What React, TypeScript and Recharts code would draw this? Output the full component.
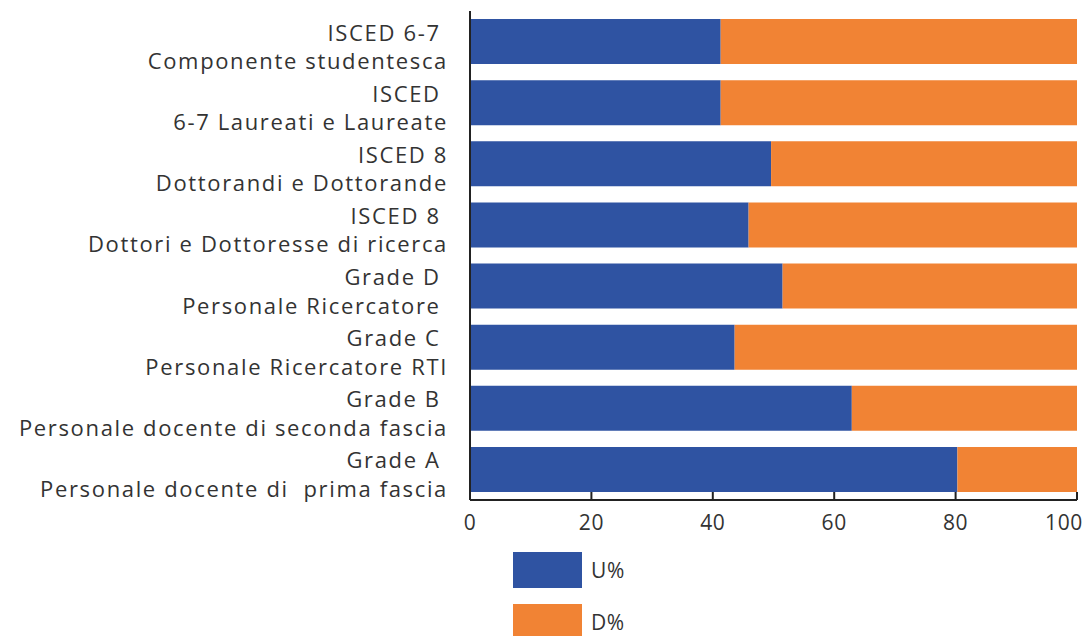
import React from "react";
import { BarChart, Bar, XAxis, YAxis, Legend } from "recharts";

// Etichette su due righe (spazi finali conservati come nell'originale)
const categoryTop = [
  "ISCED 6-7 ",
  "ISCED ",
  "ISCED 8",
  "ISCED 8 ",
  "Grade D ",
  "Grade C ",
  "Grade B ",
  "Grade A ",
];
const categoryBottom = [
  "Componente studentesca",
  "6-7 Laureati e Laureate",
  "Dottorandi e Dottorande",
  "Dottori e Dottoresse di ricerca",
  "Personale Ricercatore ",
  "Personale Ricercatore RTI",
  "Personale docente di seconda fascia",
  "Personale docente di  prima fascia",
];
const uomini = [41.3, 41.3, 49.6, 45.9, 51.5, 43.6, 62.9, 80.3];
const donne = [58.7, 58.7, 50.4, 54.1, 48.5, 56.4, 37.1, 19.7];
const seriesNames = ["U%", "D%"];
const xTicks = [0, 20, 40, 60, 80, 100];

const BLUE = "#2f53a2";
const ORANGE = "#f18334";
const TEXT = "#333333";
const FONT = "'Open Sans', sans-serif";

const data = categoryTop.map((top, i) => ({
  name: i,
  top,
  bottom: categoryBottom[i],
  U: uomini[i],
  D: donne[i],
}));

const CategoryTick = ({ x, y, payload }: any) => {
  const row = data[payload.value];
  return (
    <text
      x={x - 22}
      y={y}
      textAnchor="end"
      fill={TEXT}
      fontSize={22}
      fontFamily={FONT}
      letterSpacing={1.65}
      style={{ whiteSpace: "pre" }}
    >
      <tspan x={x - 22} dy={-1}>{row.top}</tspan>
      <tspan x={x - 22} dy={28.5}>{row.bottom}</tspan>
    </text>
  );
};

const ValueTick = ({ x, y, payload }: any) => {
  // l'ultima etichetta è spostata a sinistra per restare nella pagina
  const shift = payload.value === 100 ? -13 : 0;
  return (
    <g>
      <line x1={x} x2={x} y1={y - 8} y2={y} stroke="#222" strokeWidth={2} />
      <text
        x={x + shift}
        y={y + 30}
        textAnchor="middle"
        fill={TEXT}
        fontSize={21}
        fontFamily={FONT}
        letterSpacing={0.6}
      >
        {payload.value}
      </text>
    </g>
  );
};

const LegendContent = ({ payload }: any) => {
  const items = [...(payload || [])].sort(
    (a: any, b: any) => seriesNames.indexOf(a.value) - seriesNames.indexOf(b.value)
  );
  return (
    <div style={{ fontFamily: FONT }}>
      {items.map((entry: any) => (
        <div
          key={entry.value}
          style={{ display: "flex", alignItems: "center", height: 36, marginBottom: 16 }}
        >
          <div style={{ width: 69, height: 36, background: entry.color }} />
          <span style={{ marginLeft: 9, fontSize: 21, color: TEXT, letterSpacing: 0.6 }}>
            {entry.value}
          </span>
        </div>
      ))}
    </div>
  );
};

export default function App() {
  return (
    <div style={{ marginLeft: 12, width: 1070, height: 628, overflow: "hidden", position: "relative" }}>
      <BarChart
        width={1070}
        height={628}
        data={data}
        layout="vertical"
        margin={{ top: 3, right: 13, bottom: 106, left: 0 }}
        barSize={45}
      >
        <XAxis
          type="number"
          domain={[0, 100]}
          ticks={xTicks}
          axisLine={{ stroke: "#222", strokeWidth: 2 }}
          tickLine={false}
          tickSize={0}
          tickMargin={0}
          tick={<ValueTick />}
          height={30}
          interval={0}
        />
        <YAxis
          type="category"
          dataKey="name"
          width={450}
          axisLine={{ stroke: "#222", strokeWidth: 2 }}
          tickLine={false}
          tickSize={0}
          tickMargin={0}
          tick={<CategoryTick />}
          interval={0}
        />
        <Legend
          layout="vertical"
          align="center"
          verticalAlign="middle"
          content={<LegendContent />}
          wrapperStyle={{ left: 493, top: 544, width: 200 }}
        />
        <Bar dataKey="U" name={seriesNames[0]} stackId="a" fill={BLUE} isAnimationActive={false} />
        <Bar dataKey="D" name={seriesNames[1]} stackId="a" fill={ORANGE} isAnimationActive={false} />
      </BarChart>
    </div>
  );
}
